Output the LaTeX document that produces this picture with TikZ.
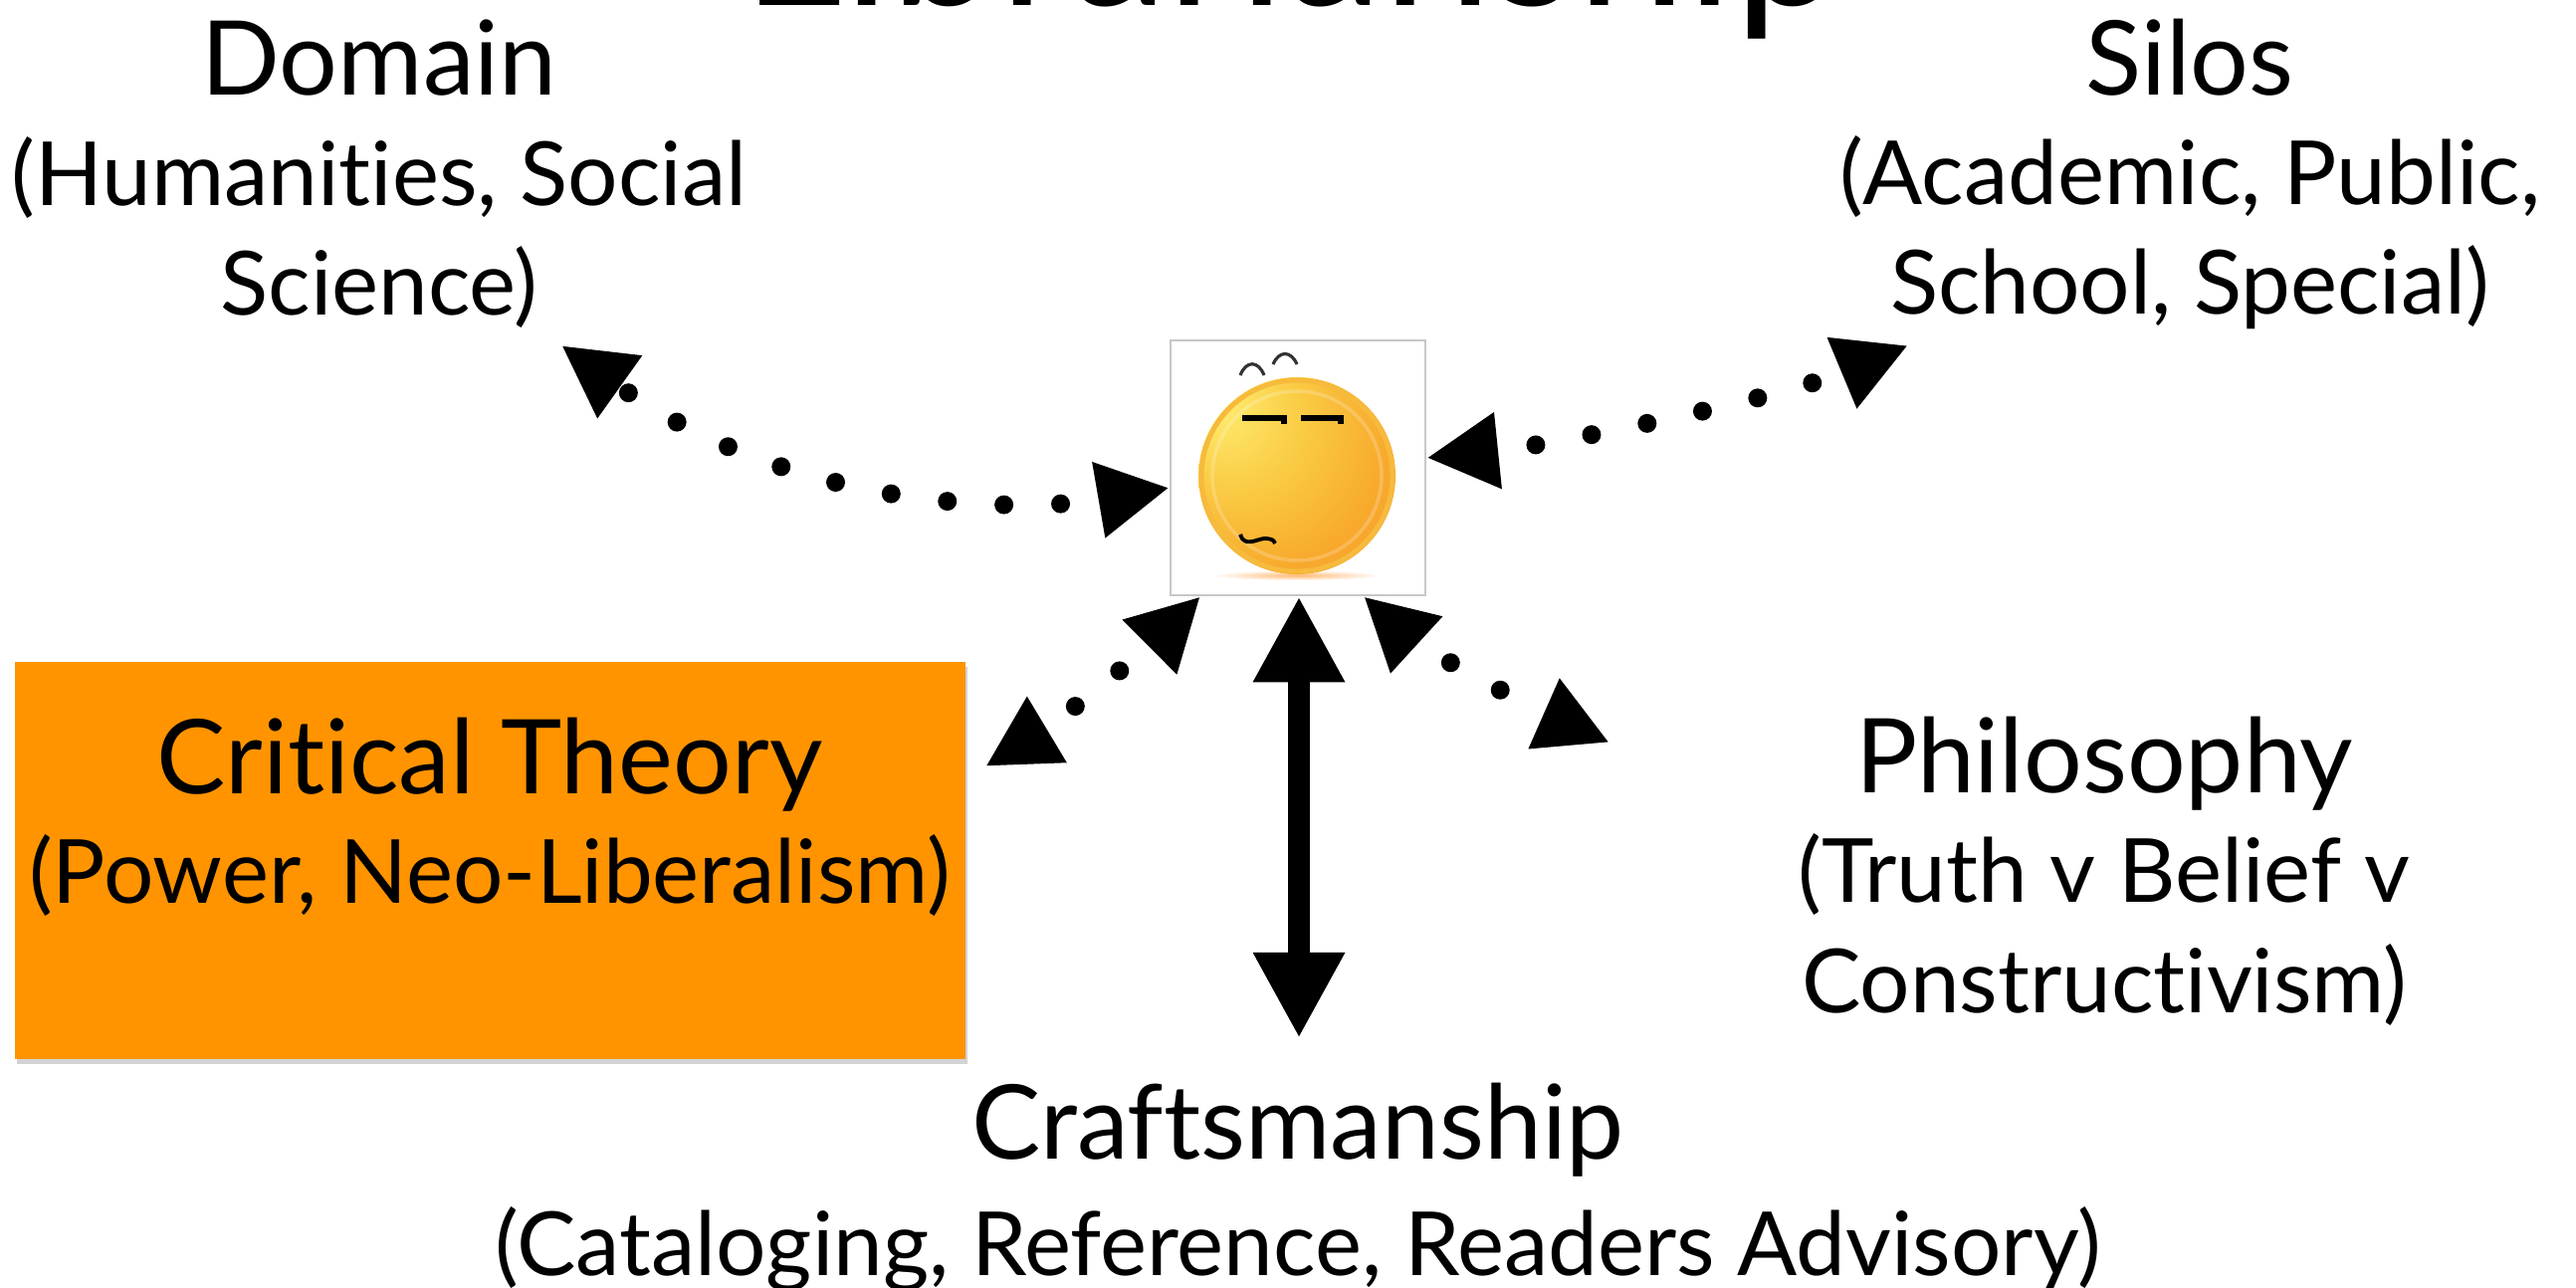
\documentclass[tikz,border=0pt]{standalone}
\usepackage{fontspec}
\setmainfont[Ligatures=NoCommon]{Lato}
\usetikzlibrary{arrows.meta,shadows}

\definecolor{theoryorange}{RGB}{255,148,0}
\definecolor{facerim}{RGB}{246,186,60}
\definecolor{facelight}{RGB}{255,238,115}
\definecolor{facemid}{RGB}{250,205,70}
\definecolor{facewarm}{RGB}{248,170,45}
\definecolor{facedark}{RGB}{244,150,42}

\pgfdeclareradialshading{faceshade}{\pgfpoint{-0.76cm}{0.67cm}}{
  color(0cm)=(facelight);
  color(0.6cm)=(facemid);
  color(1.2cm)=(facewarm);
  color(1.9cm)=(facedark);
  color(2.6cm)=(facedark)
}

\tikzset{
  blurb/.style={align=center,inner sep=0pt,anchor=center,font=\fontsize{25.3}{31.4}\selectfont},
  dotlink/.style={line width=5.4pt,line cap=round,dash pattern=on 0pt off 16.2pt,dash phase=4pt,
    {Triangle[length=20.5pt,width=20.5pt]}-{Triangle[length=20.5pt,width=20.5pt]}},
  browline/.style={line width=1.7pt,black},
}
\newcommand{\headword}[1]{{\fontsize{29.5}{31.4}\selectfont #1}}

\begin{document}
\begin{tikzpicture}[x=0.01cm,y=-0.01cm]
  \useasboundingbox (0,0) rectangle (2588,1294);

  \node[inner sep=0pt,anchor=base,font=\fontsize{56}{60}\selectfont] (title) at (1299,6) {Librarianship};

  \node[draw=black!22,line width=0.5pt,fill=white,minimum width=73pt,minimum height=73pt,inner sep=0pt] (face) at (1304,470) {};
  \shade[inner color=orange!55,outer color=white] (1303,578) ellipse (85 and 5);
  \shade[shading=faceshade] (1303,478) circle (99);
  \draw[facerim,line width=1.4pt] (1303,478) circle (96);
  \draw[white,opacity=0.2,line width=1pt] (1303,478) circle (85);
  \draw[browline] (1248,420) -- (1290,420) -- (1290,426);
  \draw[browline] (1307,420) -- (1347,420) -- (1347,426);
  \draw[black!80,line width=0.9pt] (1246,377) .. controls (1252,362) and (1264,362) .. (1270,377);
  \draw[black!80,line width=0.9pt] (1279,366) .. controls (1285,352) and (1297,352) .. (1303,366);
  \draw[browline,line width=1.1pt] (1246,537) .. controls (1250,550) and (1262,542) .. (1270,541) .. controls (1276,541) and (1280,542) .. (1281,546);

  \node[fill=theoryorange,minimum width=271.7pt,minimum height=113.5pt,inner sep=0pt,
    drop shadow={shadow xshift=0.6pt,shadow yshift=-1.3pt,opacity=0.35}] (theorybox) at (492.5,864.5) {};

  \node[blurb] (domain) at (381,175) {\headword{Domain}\\(Humanities, Social\\Science)};
  \node[blurb] (silos) at (2200,175) {\headword{Silos}\\(Academic, Public,\\School, Special)};
  \node[blurb] (theory) at (492,821) {\headword{Critical Theory}\\(Power, Neo-Liberalism)};
  \node[blurb] (philosophy) at (2114,875) {\headword{Philosophy}\\(Truth v Belief v\\Constructivism)};
  \node[blurb] (craft) at (1304,1193) {\headword{Craftsmanship}\\[2pt](Cataloging, Reference, Readers Advisory)};

  \coordinate (domainend) at (564,347);
  \coordinate (silosend) at (1917,347);
  \coordinate (theoryend) at (990,770);
  \coordinate (philosophyend) at (1617,746);
  \coordinate (craftend) at (1305,1043);

  \draw[dotlink] (face.west |- 0,490) .. controls (1030,515) and (800,515) .. (domainend);
  \draw[dotlink] (face.east |- 0,460) .. controls (1560,447) and (1790,400) .. (silosend);
  \draw[dotlink] (face.south -| 1206,0) .. controls (1156,649) and (1050,734) .. (theoryend);
  \draw[dotlink] (face.south -| 1370,0) .. controls (1420,645) and (1540,712) .. (philosophyend);
  \draw[line width=6.5pt,{Triangle[length=24.5pt,width=24.5pt]}-{Triangle[length=24.5pt,width=24.5pt]}] (face.south -| craftend) -- (craftend);
\end{tikzpicture}
\end{document}
